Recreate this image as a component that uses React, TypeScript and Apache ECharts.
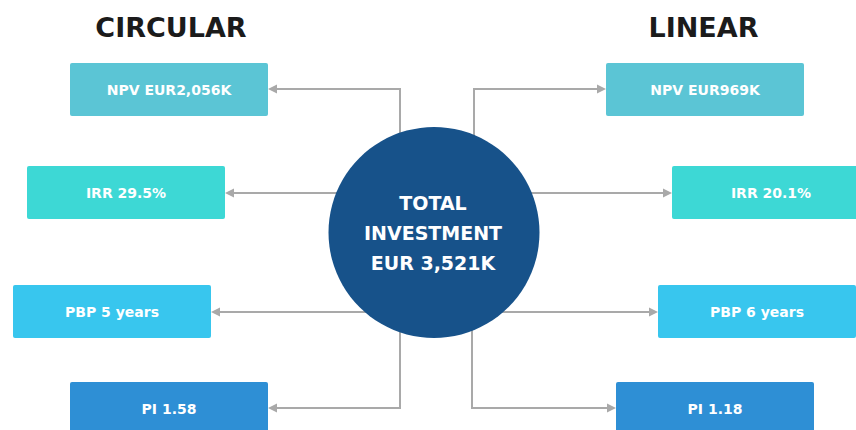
import React, { useEffect, useRef } from "react";
import * as echarts from "echarts";

// ---- data ----
const sideTitles = ["CIRCULAR", "LINEAR"];
const metricNames = ["NPV", "IRR", "PBP", "PI"];
const circularValues = ["EUR2,056K", "29.5%", "5 years", "1.58"];
const linearValues = ["EUR969K", "20.1%", "6 years", "1.18"];
const centerLines = ["TOTAL", "INVESTMENT", "EUR 3,521K"];

// ---- styles / layout ----
const boxColors = ["#5BC5D5", "#3DD8D5", "#38C6EE", "#2E8FD5"];
const circleColor = "#17528A";
const lineColor = "#A9A9A9";
const FONT = "DejaVu Sans";

const BOX_W = 198;
const BOX_H = 53;
const boxTops = [63, 166, 285, 382];
const leftBoxX = [70, 27, 13, 70];
const rightBoxX = [606, 672, 658, 616];
const arrowY = [89, 193, 312, 408];
const circle = { cx: 434, cy: 232.5, r: 105.5 };

export default function App() {
  const ref = useRef<HTMLDivElement>(null);
  useEffect(() => {
    document.body.style.margin = "0";
    if (!ref.current) return;
    const chart = echarts.init(ref.current, undefined, { renderer: "svg" });
    const elements: any[] = [];

    const arrowHead = (tipX: number, y: number, dir: number) => ({
      type: "polygon",
      z: 2,
      shape: { points: [[tipX, y], [tipX - dir * 9, y - 4.5], [tipX - dir * 9, y + 4.5]] },
      style: { fill: lineColor },
    });

    const addSide = (values: string[], boxX: number[], side: number) => {
      values.forEach((v, i) => {
        const x = boxX[i];
        const y = boxTops[i];
        elements.push({
          type: "rect",
          z: 3,
          shape: { x, y, width: BOX_W, height: BOX_H, r: 2 },
          style: { fill: boxColors[i] },
        });
        elements.push({
          type: "text",
          z: 4,
          x: x + BOX_W / 2,
          y: y + BOX_H / 2,
          style: {
            text: `${metricNames[i]} ${v}`,
            fill: "#ffffff",
            font: `bold 14px "${FONT}"`,
            align: "center",
            verticalAlign: "middle",
          },
        });
        // connector
        const tipX = side < 0 ? x + BOX_W : x;
        const ay = arrowY[i];
        let pts: number[][];
        if (i === 0 || i === 3) {
          const vx = side < 0 ? 400 : i === 0 ? 474 : 472;
          pts = [[vx, circle.cy], [vx, ay], [tipX - side * 8, ay]];
        } else {
          pts = [[circle.cx, ay], [tipX - side * 8, ay]];
        }
        elements.push({
          type: "polyline",
          z: 1,
          shape: { points: pts },
          style: { stroke: lineColor, lineWidth: 2, fill: null },
        });
        elements.push(arrowHead(tipX, ay, side));
      });
    };

    addSide(circularValues, leftBoxX, -1);
    addSide(linearValues, rightBoxX, 1);

    elements.push({
      type: "circle",
      z: 10,
      shape: { cx: circle.cx, cy: circle.cy, r: circle.r },
      style: { fill: circleColor },
    });
    centerLines.forEach((t, i) => {
      elements.push({
        type: "text",
        z: 11,
        x: 433,
        y: 203 + i * 30,
        style: {
          text: t,
          fill: "#ffffff",
          font: `bold 19px "${FONT}"`,
          align: "center",
          verticalAlign: "middle",
        },
      });
    });

    const titleX = [171, 703.5];
    sideTitles.forEach((t, i) => {
      elements.push({
        type: "text",
        z: 5,
        x: titleX[i],
        y: 27,
        style: {
          text: t,
          fill: "#1b1b1b",
          font: `bold 27px "${FONT}"`,
          align: "center",
          verticalAlign: "middle",
        },
      });
    });

    chart.setOption({
      animation: false,
      backgroundColor: "#ffffff",
      graphic: { elements },
    });
    return () => chart.dispose();
  }, []);
  return <div ref={ref} style={{ width: 856, height: 430 }} />;
}
